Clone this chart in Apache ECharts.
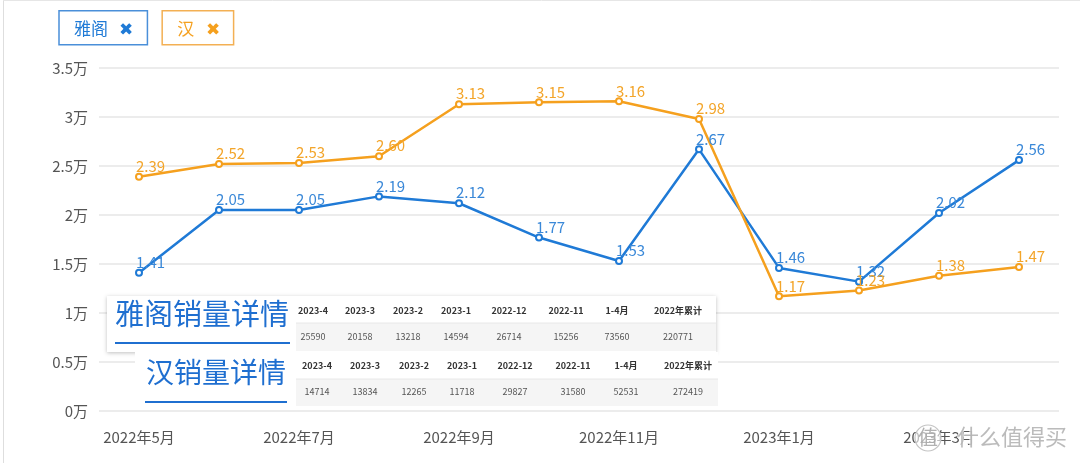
<!DOCTYPE html>
<html>
<head>
<meta charset="utf-8">
<script src="https://cdn.jsdelivr.net/npm/echarts@6/dist/echarts.min.js"></script>
<style>
html,body{margin:0;padding:0;background:#fff;}
#c{width:1080px;height:463px;}
</style>
</head>
<body>
<div id="c"></div>
<script>
// ---- data ----
const months = ['2022年5月','2022年6月','2022年7月','2022年8月','2022年9月','2022年10月','2022年11月','2022年12月','2023年1月','2023年2月','2023年3月','2023年4月'];
const accordValues = [1.41, 2.05, 2.05, 2.19, 2.12, 1.77, 1.53, 2.67, 1.46, 1.32, 2.02, 2.56];
const hanValues = [2.39, 2.52, 2.53, 2.60, 3.13, 3.15, 3.16, 2.98, 1.17, 1.23, 1.38, 1.47];
const seriesNames = ['雅阁', '汉'];
const tableHeaders = ['2023-4','2023-3','2023-2','2023-1','2022-12','2022-11','1-4月','2022年累计'];
const accordTable = ['25590','20158','13218','14594','26714','15256','73560','220771'];
const hanTable = ['14714','13834','12265','11718','29827','31580','52531','272419'];
const accordTitle = '雅阁销量详情';
const hanTitle = '汉销量详情';
const watermark = '什么值得买';

const BLUE = '#1f7ad6';
const ORANGE = '#f5a01e';
const FONT = '"Noto Sans CJK SC", "Noto Sans", sans-serif';

const chart = echarts.init(document.getElementById('c'), null, {renderer: 'canvas'});

// table layout (positions only)
const t1x = [313, 360, 408, 456, 509, 566, 617, 678];
const t2x = [317, 365, 414, 462, 515, 573, 626, 688];

const graphics = [];
// card border
graphics.push({type:'line', z:0, shape:{x1:3.5,y1:0,x2:3.5,y2:463}, style:{stroke:'#dedede', lineWidth:1}});
graphics.push({type:'line', z:0, shape:{x1:3,y1:0.5,x2:1080,y2:0.5}, style:{stroke:'#e6e6e6', lineWidth:1}});

// overlay boxes
graphics.push({type:'rect', z:100, shape:{x:107,y:296,width:609,height:56},
  style:{fill:'#fff', shadowBlur:4, shadowColor:'rgba(0,0,0,0.25)', shadowOffsetX:0, shadowOffsetY:1}});
graphics.push({type:'rect', z:100, shape:{x:135,y:352,width:583,height:54}, style:{fill:'#fff'}});
graphics.push({type:'rect', z:101, shape:{x:296,y:323,width:420,height:28}, style:{fill:'#f5f5f5'}});
graphics.push({type:'rect', z:101, shape:{x:296,y:379,width:422,height:27}, style:{fill:'#f5f5f5'}});
graphics.push({type:'line', z:101, shape:{x1:296,y1:323,x2:716,y2:323}, style:{stroke:'#e8e8e8', lineWidth:1}});
graphics.push({type:'line', z:101, shape:{x1:296,y1:379,x2:718,y2:379}, style:{stroke:'#e8e8e8', lineWidth:1}});

// titles
graphics.push({type:'text', z:102, style:{text:accordTitle, x:202, y:314, align:'center', verticalAlign:'middle',
  font:'29px ' + FONT, fill:'#1f6fd0'}});
graphics.push({type:'rect', z:102, shape:{x:115,y:342,width:175,height:2}, style:{fill:'#1f6fd0'}});
graphics.push({type:'text', z:102, style:{text:hanTitle, x:216, y:372, align:'center', verticalAlign:'middle',
  font:'28px ' + FONT, fill:'#1f6fd0'}});
graphics.push({type:'rect', z:102, shape:{x:145,y:401,width:142,height:2}, style:{fill:'#1f6fd0'}});

tableHeaders.forEach((h, i) => {
  graphics.push({type:'text', z:103, style:{text:h, x:t1x[i], y:311, align:'center', verticalAlign:'middle',
    font:'bold 9px ' + FONT, fill:'#333'}});
  graphics.push({type:'text', z:103, style:{text:accordTable[i], x:t1x[i], y:337, align:'center', verticalAlign:'middle',
    font:'9px ' + FONT, fill:'#555'}});
  graphics.push({type:'text', z:103, style:{text:h, x:t2x[i], y:366, align:'center', verticalAlign:'middle',
    font:'bold 9px ' + FONT, fill:'#333'}});
  graphics.push({type:'text', z:103, style:{text:hanTable[i], x:t2x[i], y:392, align:'center', verticalAlign:'middle',
    font:'9px ' + FONT, fill:'#555'}});
});

// watermark
graphics.push({type:'circle', z:110, shape:{cx:928,cy:438,r:13}, style:{fill:'rgba(255,255,255,0.6)', stroke:'#c4c4c4', lineWidth:1.2}});
graphics.push({type:'text', z:111, style:{text:'值', x:928, y:437, align:'center', verticalAlign:'middle',
  font:'20px ' + FONT, fill:'rgba(170,170,170,0.9)'}});
graphics.push({type:'text', z:111, style:{text:watermark, x:957, y:437, align:'left', verticalAlign:'middle',
  font:'22px ' + FONT, fill:'rgba(175,175,175,0.85)', stroke:'rgba(255,255,255,0.7)', lineWidth:2}});

const labelCommon = {
  show: true,
  position: [1, -14],
  fontSize: 15,
  fontFamily: FONT,
  formatter: p => p.value.toFixed(2)
};

const option = {
  animation: false,
  textStyle: {fontFamily: FONT},
  legend: {
    left: 49, top: 5,
    icon: 'none', itemWidth: 0, itemHeight: 0, itemGap: 9,
    data: seriesNames,
    formatter: name => name === seriesNames[0] ? '{b|' + name + '   ✖}' : '{o|' + name + '   ✖}',
    textStyle: {
      rich: {
        b: {color: BLUE, fontSize: 17, lineHeight: 21, borderColor: '#4a8fd9', borderWidth: 1.5, padding: [9, 14, 8, 15], fontFamily: FONT},
        o: {color: ORANGE, fontSize: 17, lineHeight: 21, borderColor: '#f3b054', borderWidth: 1.5, padding: [9, 14, 8, 15], fontFamily: FONT}
      }
    }
  },
  grid: {left: 99, right: 21, top: 68, bottom: 52, containLabel: false},
  xAxis: {
    type: 'category',
    data: months,
    boundaryGap: true,
    axisLine: {show: false},
    axisTick: {show: false},
    axisLabel: {interval: 1, color: '#555', fontSize: 15, margin: 19, fontFamily: FONT}
  },
  yAxis: {
    type: 'value',
    min: 0, max: 3.5, interval: 0.5,
    axisLine: {show: false},
    axisTick: {show: false},
    splitLine: {lineStyle: {color: '#e6e6e6', width: 1.5}},
    axisLabel: {color: '#555', fontSize: 15, margin: 11, fontFamily: FONT, formatter: v => v + '万'}
  },
  series: [
    {
      name: seriesNames[0], type: 'line', data: accordValues,
      symbol: 'emptyCircle', symbolSize: 6,
      lineStyle: {color: BLUE, width: 2.5},
      itemStyle: {color: BLUE, borderWidth: 1.5},
      label: Object.assign({color: '#3a88d8'}, labelCommon)
    },
    {
      name: seriesNames[1], type: 'line', data: hanValues,
      symbol: 'emptyCircle', symbolSize: 6,
      lineStyle: {color: ORANGE, width: 2.5},
      itemStyle: {color: ORANGE, borderWidth: 1.5},
      label: Object.assign({color: '#f3a52a'}, labelCommon)
    }
  ],
  graphic: graphics
};
chart.setOption(option);
</script>
</body>
</html>
